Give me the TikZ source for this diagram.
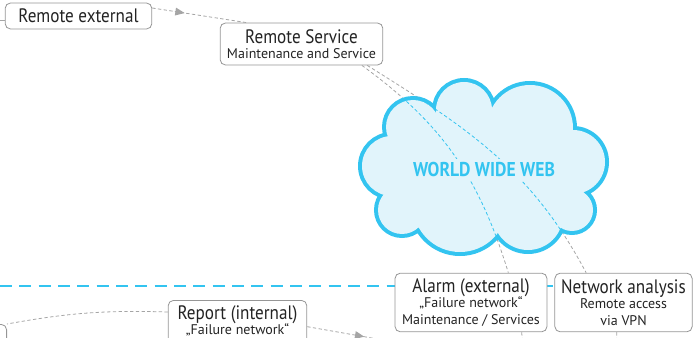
\documentclass[tikz,border=0pt]{standalone}
\usepackage{fontspec}
\setmainfont{PT Sans}
\newfontfamily\narrowfont[FakeStretch=0.88]{PT Sans}
\usepackage{xcolor}
\usepackage{tikz}
\usetikzlibrary{arrows.meta, positioning, decorations.markings}
\definecolor{webblue}{RGB}{51,196,240}
\definecolor{webfill}{RGB}{225,244,251}
\definecolor{linegray}{RGB}{165,165,165}
\definecolor{boxgray}{RGB}{150,150,150}
\definecolor{textdark}{RGB}{35,35,35}
\newcommand{\mainsize}{\narrowfont\fontsize{14.6}{16}\selectfont}
\newcommand{\subsize}{\fontsize{10.5}{12.75}\selectfont}
% cloud outline = union of puffs
\newcommand{\webpuffs}{(392,166) circle[radius=30] (402,210) circle[radius=24]
  (460,205) circle[radius=47] (528,215) circle[radius=35] (572,210) circle[radius=21]
  (573,162) circle[radius=32] (530,128) circle[radius=43] (464,110) circle[radius=28]
  (413,127) circle[radius=27]}
\newcommand{\webcore}{(485,165) ellipse[x radius=95, y radius=55]}
\tikzstyle{box} = [draw=boxgray, line width=0.6pt, rounded corners=4pt, fill=white, align=center, text=textdark, font=\subsize, inner sep=2pt]
\tikzstyle{link} = [draw=linegray, line width=0.6pt, dash pattern=on 2.5pt off 1.8pt]
\tikzstyle{weblink} = [draw=webblue, line width=0.6pt, dash pattern=on 2.5pt off 1.8pt]
\tikzstyle{divider} = [draw=webblue, line width=2.2pt, dash pattern=on 9pt off 5.5pt]
\tikzstyle{webtext} = [fill=webfill, text=webblue, inner sep=3pt, font=\narrowfont\fontsize{15}{17}\selectfont\bfseries]
\tikzset{midarrow/.style={postaction={decorate}, decoration={markings, mark=at position #1 with {\fill[linegray] (1pt,0) -- (-6pt,3pt) -- (-6pt,-3pt) -- cycle;}}}}

\begin{document}
\begin{tikzpicture}[x=0.75pt, y=-0.75pt]
\useasboundingbox (0,0) rectangle (695,338);
\clip (0,0) rectangle (695,338);

% Network border
\draw [divider] (0,286) -- (695,286);

% Boxes
\node (re) at (78.5,16) [box, minimum width=110pt, minimum height=19.5pt] {\mainsize Remote external};
\node (rs) at (301.5,44) [box, minimum width=122pt, minimum height=31.5pt] {{\mainsize Remote Service}\\[-1.5pt]Maintenance and Service};
\node (alarm) at (471,302.5) [box, minimum width=114pt, minimum height=44pt] {{\mainsize Alarm (external)}\\[-1.5pt]„Failure network“\\Maintenance / Services};
\node (net) at (623.5,302.5) [box, minimum width=103pt, minimum height=44pt] {{\mainsize Network analysis}\\[-1.5pt]Remote access\\via VPN};
\node (report) at (237.5,300) [box, anchor=north, minimum width=104pt, inner ysep=4pt, text depth=30pt] {{\mainsize Report (internal)}\\[-1.5pt]„Failure network“};
\node (leftbox) at (7,324) [box, anchor=north east, minimum width=60pt, minimum height=40pt] {};

% Loose ends
\coordinate (inlet) at (-10,20);
\coordinate (reportOut) at (440,350);
\coordinate (alarmOut) at (524,360);
\coordinate (netOut) at (616,360);

% Links
\draw [draw=linegray, line width=0.6pt] (inlet) -- ([yshift=-3pt]re.west);
\draw [link, midarrow=0.33] ([yshift=6pt]re.east) -- ([xshift=20pt]rs.north west);
\draw [link] ([xshift=-16pt]rs.south east) to[out=-36, in=107] ([xshift=28pt]alarm.north);
\draw [link] ([xshift=-12pt]rs.south east) to[out=-32, in=118] ([xshift=-28pt]net.north);
\draw [link] ([yshift=-9pt]report.north west) to[bend right=6] (leftbox.north east);
\draw [link, midarrow=0.42] ([yshift=-20pt]report.north east) -- (reportOut);
\draw [link] ([xshift=38pt]alarm.south) -- (alarmOut);
\draw [link] ([xshift=-5pt]net.south) -- (netOut);

% Cloud
\draw [webblue, line width=6pt] \webpuffs;
\fill [webfill] \webpuffs \webcore;
\begin{scope}
  \clip \webpuffs \webcore;
  \draw [weblink] ([xshift=-16pt]rs.south east) to[out=-36, in=107] ([xshift=28pt]alarm.north);
  \draw [weblink] ([xshift=-12pt]rs.south east) to[out=-32, in=118] ([xshift=-28pt]net.north);
\end{scope}
\node (web) at (484,170) [webtext] {WORLD WIDE WEB};

\end{tikzpicture}
\end{document}
